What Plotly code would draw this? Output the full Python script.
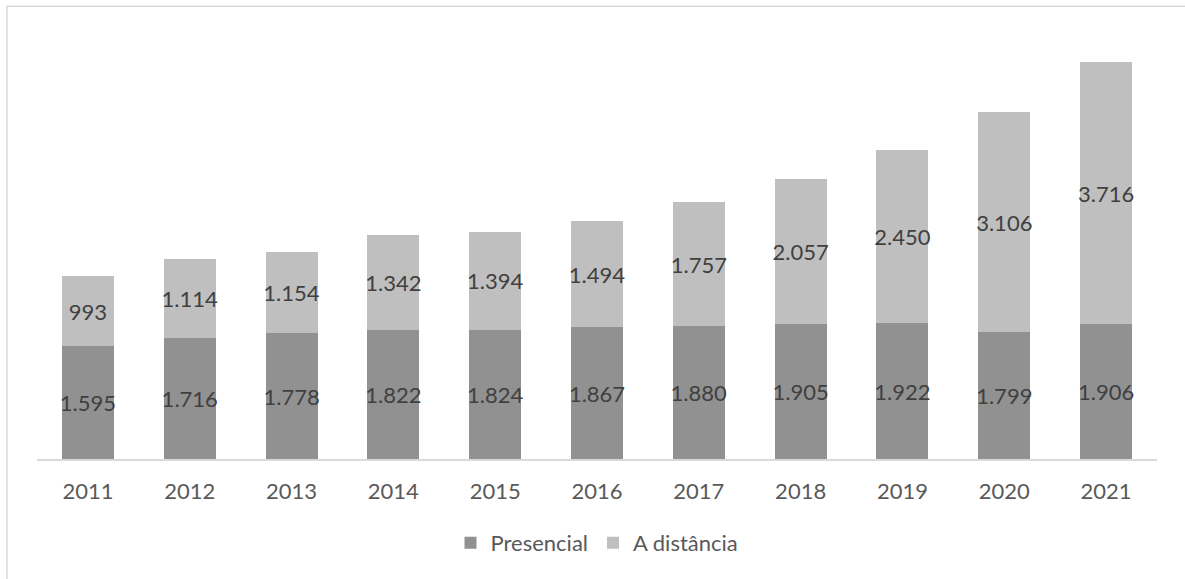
import plotly.graph_objects as go

years = ["2011", "2012", "2013", "2014", "2015", "2016", "2017", "2018", "2019", "2020", "2021"]
presencial = [1595, 1716, 1778, 1822, 1824, 1867, 1880, 1905, 1922, 1799, 1906]
distancia = [993, 1114, 1154, 1342, 1394, 1494, 1757, 2057, 2450, 3106, 3716]

def fmt(v):
    return f"{v:,}".replace(",", ".")

FONT = "Lato"
SIZE = 22

fig = go.Figure()
fig.add_trace(go.Bar(
    x=years, y=presencial, name="Presencial",
    marker=dict(color="#919191", line=dict(width=0)),
    text=[fmt(v) for v in presencial], textposition="inside", textangle=0,
    insidetextanchor="middle", constraintext="none",
    textfont=dict(family=FONT, size=SIZE, color="#404040"),
))
fig.add_trace(go.Bar(
    x=years, y=distancia, name="A distância",
    marker=dict(color="#BFBFBF", line=dict(width=0)),
    text=[fmt(v) for v in distancia], textposition="inside", textangle=0,
    insidetextanchor="middle", constraintext="none",
    textfont=dict(family=FONT, size=SIZE, color="#404040"),
))

fig.update_layout(
    barmode="stack",
    bargap=0.49,
    width=1185, height=579,
    margin=dict(l=37, r=28, t=35, b=120),
    plot_bgcolor="white", paper_bgcolor="white",
    font=dict(family=FONT, size=SIZE, color="#595959"),
    showlegend=True,
    legend=dict(orientation="h", x=0.5, xanchor="center", y=-0.198, yanchor="middle",
                font=dict(family=FONT, size=SIZE, color="#595959"),
                traceorder="normal"),
    xaxis=dict(showline=True, linecolor="#D9D9D9", linewidth=1.5, ticks="",
               ticklabelstandoff=12,
               tickfont=dict(family=FONT, size=SIZE, color="#595959"),
               showgrid=False),
    yaxis=dict(range=[0, 6000], visible=False, showgrid=False),
    shapes=[dict(type="rect", xref="paper", yref="paper",
                 x0=-0.0268, x1=1.3, y0=-0.6, y1=1.068,
                 line=dict(color="#D9D9D9", width=1.5), fillcolor="rgba(0,0,0,0)",
                 layer="below")],
)

fig.write_html("out.html",
               config={"displayModeBar": False},
               post_script="document.body.style.margin='0';document.body.style.overflow='hidden';")
